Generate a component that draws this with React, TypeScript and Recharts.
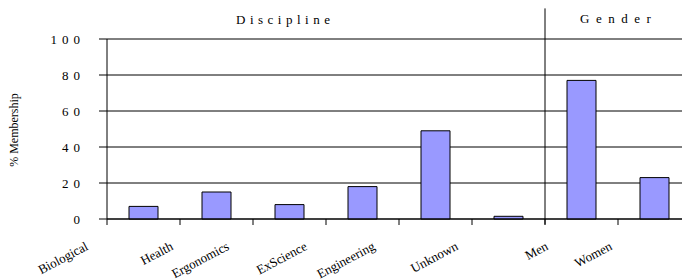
import { BarChart, Bar, CartesianGrid, XAxis, YAxis, ReferenceLine, Text } from "recharts"

const categories = ["Biological", "Health", "Ergonomics", "ExScience", "Engineering", "Unknown", "Men", "Women"]
const membership = [7, 15, 8, 18, 49, 1.5, 77, 23]
const yTicks = [0, 20, 40, 60, 80, 100]

// where each rotated label ends, relative to the slot boundary tick
const labelNudge = [-18, -6, -23, -18, -23, -13, 4, -5]

const chartData = categories.map((name, i) => ({ name, value: membership[i] }))

const serif = "Liberation Serif"

function CategoryTick(props: any) {
  const { x, y, payload, index } = props
  const i = typeof index === "number" ? index : categories.indexOf(payload.value)
  const half = payload.offset || 36.5
  const edge = x - half
  return (
    <g>
      <line x1={edge} y1={y - 6} x2={edge} y2={y} stroke="#000" />
      <Text
        x={edge + labelNudge[i]}
        y={y + 24}
        angle={-28}
        textAnchor="end"
        fill="#000"
        fontFamily={serif}
        fontSize={13}
      >
        {payload.value}
      </Text>
    </g>
  )
}

function ValueTick(props: any) {
  const { x, y, payload } = props
  return (
    <text x={x} y={y} dy={5} textAnchor="end" fill="#000" fontFamily={serif} fontSize={13} letterSpacing={5}>
      {payload.value}
    </text>
  )
}

function App() {
  return (
    <div
      style={{
        position: "absolute",
        left: 0,
        top: 0,
        width: 682,
        height: 280,
        overflow: "hidden",
        background: "#fff",
        fontFamily: serif,
      }}
    >
      <BarChart width={700} height={280} data={chartData} margin={{ top: 39, right: 9, bottom: 0, left: 0 }}>
        <CartesianGrid vertical={false} stroke="#000" />
        <XAxis
          dataKey="name"
          interval={0}
          height={61}
          tickSize={6}
          tickMargin={0}
          axisLine={{ stroke: "#000" }}
          tickLine={false}
          tick={<CategoryTick />}
        />
        <YAxis
          domain={[0, 100]}
          ticks={yTicks}
          width={107}
          tickSize={8}
          tickMargin={14}
          axisLine={{ stroke: "#000" }}
          tickLine={{ stroke: "#000" }}
          tick={<ValueTick />}
        />
        <ReferenceLine
          segment={[{ x: "Men", y: -3 }, { x: "Men", y: 117 }]}
          position="start"
          stroke="#000"
          ifOverflow="visible"
        />
        <Bar dataKey="value" fill="#9999FF" stroke="#000" strokeWidth={1} barSize={29} isAnimationActive={false} />
        <text x={236} y={24} fill="#000" fontFamily={serif} fontSize={13} letterSpacing={4.5}>
          Discipline
        </text>
        <text x={580} y={23} fill="#000" fontFamily={serif} fontSize={13} letterSpacing={6.5}>
          Gender
        </text>
        <Text x={18} y={130} angle={-90} fill="#000" textAnchor="middle" fontFamily={serif} fontSize={12}>
          % Membership
        </Text>
      </BarChart>
    </div>
  )
}

export default App
